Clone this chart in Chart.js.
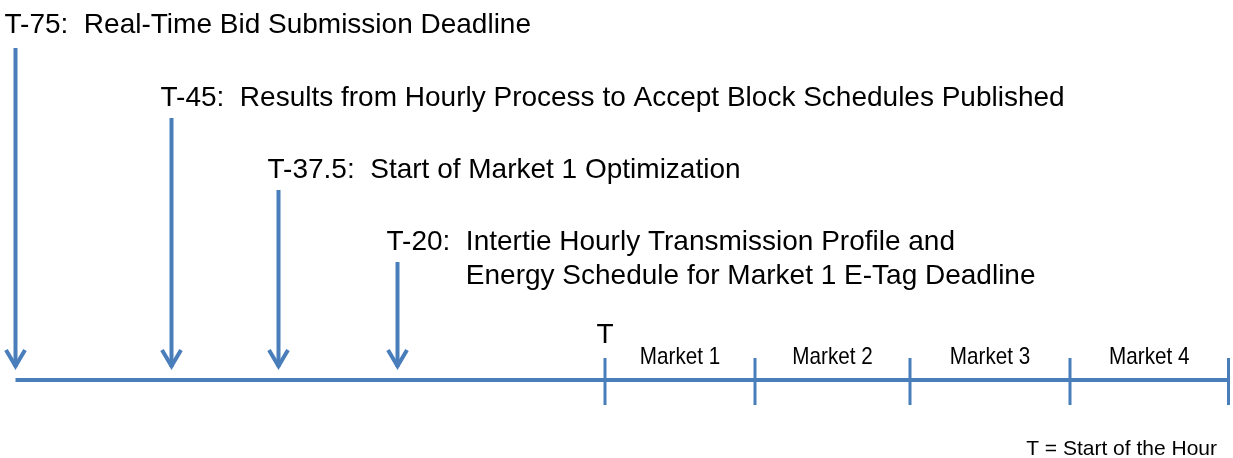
<!DOCTYPE html>
<html>
<head>
<meta charset="utf-8">
<script src="https://cdn.jsdelivr.net/npm/chart.js@4/dist/chart.umd.min.js"></script>
<style>
  body { margin: 0; background: #fff; }
  #chart { display: block; }
</style>
</head>
<body>
<canvas id="chart" width="1233" height="458"></canvas>
<script>
// events along the schematic timeline (diagram units, not to scale in minutes)
const eventTags = ['T-75:', 'T-45:', 'T-37.5:', 'T-20:'];
const eventTexts = [
  ['Real-Time Bid Submission Deadline'],
  ['Results from Hourly Process to Accept Block Schedules Published'],
  ['Start of Market 1 Optimization'],
  ['Intertie Hourly Transmission Profile and', 'Energy Schedule for Market 1 E-Tag Deadline']
];
const eventPos = [0, 15.6, 26.3, 38.2];
const arrowTop = [33.2, 26.2, 19, 11.8];
const arrowTip = 1.3;

const marketBounds = [58.95, 73.95, 89.45, 105.45, 121.3];
const marketNames = ['Market 1', 'Market 2', 'Market 3', 'Market 4'];
const tickTop = 2.2;
const tickBottom = -2.5;
const timelineStart = 0;
const timelineEnd = 121.45;

const blue = '#4A7EBB';
const font = '"Liberation Sans", Arial, sans-serif';

const datasets = [];
// timeline
datasets.push({
  data: [{ x: timelineStart, y: 0 }, { x: timelineEnd, y: 0 }],
  borderColor: blue, borderWidth: 4, pointRadius: 0, showLine: true
});
// arrows
eventPos.forEach((p, i) => {
  datasets.push({
    data: [{ x: p, y: arrowTop[i] }, { x: p, y: arrowTip }],
    borderColor: blue, borderWidth: 4, pointRadius: 0, showLine: true
  });
});
// market ticks
marketBounds.forEach(b => {
  datasets.push({
    data: [{ x: b, y: tickTop }, { x: b, y: tickBottom }],
    borderColor: blue, borderWidth: 3, pointRadius: 0, showLine: true
  });
});

const annotate = {
  id: 'annotate',
  afterDatasetsDraw(chart) {
    const ctx = chart.ctx;
    const xs = chart.scales.x, ys = chart.scales.y;
    ctx.save();

    // arrow heads
    ctx.strokeStyle = blue;
    ctx.lineWidth = 4;
    ctx.lineJoin = 'miter';
    eventPos.forEach(p => {
      const px = xs.getPixelForValue(p);
      const py = ys.getPixelForValue(arrowTip);
      ctx.beginPath();
      ctx.moveTo(px - 9.5, py - 17);
      ctx.lineTo(px, py - 1);
      ctx.lineTo(px + 9.5, py - 17);
      ctx.stroke();
    });

    // event labels
    ctx.fillStyle = '#000';
    ctx.textBaseline = 'middle';
    ctx.textAlign = 'left';
    ctx.font = '28px ' + font;
    eventPos.forEach((p, i) => {
      const left = xs.getPixelForValue(p) - 11;
      const cy = ys.getPixelForValue(arrowTop[i]) - (i === 0 ? 23 : 20);
      const tag = eventTags[i] + '  ';
      ctx.fillText(tag, left, cy);
      const indent = left + ctx.measureText(tag).width;
      eventTexts[i].forEach((line, j) => {
        ctx.fillText(line, indent, cy + j * 34);
      });
    });

    // T marker
    ctx.textAlign = 'center';
    ctx.fillText('T', xs.getPixelForValue(marketBounds[0]), ys.getPixelForValue(tickTop) - 23);

    // market names (narrow lettering)
    ctx.font = '24px ' + font;
    marketNames.forEach((m, i) => {
      const cx = (xs.getPixelForValue(marketBounds[i]) + xs.getPixelForValue(marketBounds[i + 1])) / 2;
      ctx.save();
      ctx.translate(cx, ys.getPixelForValue(tickTop) - 1);
      ctx.scale(0.86, 1);
      ctx.fillText(m, 0, 0);
      ctx.restore();
    });

    // note
    ctx.font = '21px ' + font;
    ctx.textAlign = 'right';
    ctx.fillText('T = Start of the Hour', 1217, 449);
    ctx.restore();
  }
};

const ctx = document.getElementById('chart').getContext('2d');
new Chart(ctx, {
  type: 'scatter',
  data: { datasets: datasets },
  options: {
    responsive: false,
    animation: false,
    layout: { padding: 0 },
    plugins: { legend: { display: false }, tooltip: { enabled: false } },
    scales: {
      x: { type: 'linear', display: false, min: -1.55, max: 121.75 },
      y: { type: 'linear', display: false, min: -7.8, max: 38 }
    },
    elements: { line: { borderCapStyle: 'butt' } }
  },
  plugins: [annotate]
});
</script>
</body>
</html>
